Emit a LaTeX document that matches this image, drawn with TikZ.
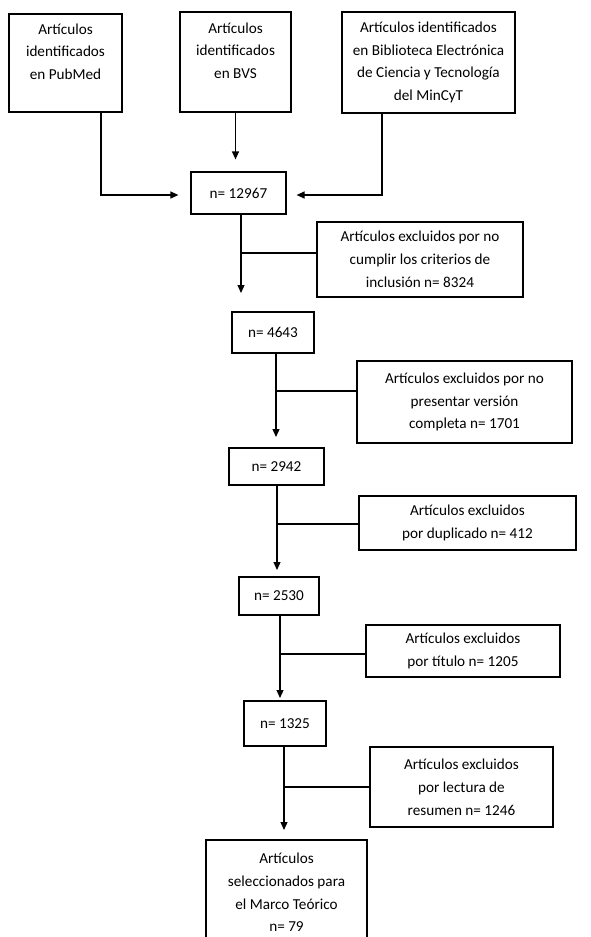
\documentclass[tikz,border=0pt]{standalone}
\usepackage{fontspec}
\setmainfont{Carlito}
\usetikzlibrary{arrows.meta, calc, positioning}

\begin{document}
\begin{tikzpicture}[x=1pt, y=-1pt,
line width=1.2pt,
every node/.style = {draw, inner sep=2pt, align=center,
                     font=\fontsize{15.2}{22.8}\selectfont},
                    ]
%---
\useasboundingbox (0,0) rectangle (591,937);

% sources
\node (pubmed) [minimum width=113pt, minimum height=98pt] at (65.5,63)
      {Artículos \\ identificados \\ en PubMed \\ \mbox{}};
\node (bvs) [minimum width=111pt, minimum height=100pt] at (235.5,62)
      {Artículos \\ identificados \\ en BVS \\ \mbox{}};
\node (mincyt) [minimum width=173pt, minimum height=101pt] at (428.5,62.5)
      {Artículos identificados \\ en Biblioteca Electrónica \\ de Ciencia y Tecnología \\ del MinCyT};

% main line
\node (n_all)  [minimum width=95pt, minimum height=42pt] at (238.5,193) {n= 12967};
\node (n_incl) [minimum width=82pt, minimum height=41pt] at (273,332.5) {n= 4643};
\node (n_full) [minimum width=95pt, minimum height=37pt] at (276.5,466.5) {n= 2942};
\node (n_dup)  [minimum width=80pt, minimum height=38pt] at (279,596) {n= 2530};
\node (n_tit)  [minimum width=82pt, minimum height=45pt] at (285,723.5) {n= 1325};
\node (sel)    [minimum width=161pt, minimum height=105pt] at (286.5,892.5)
      {Artículos \\ seleccionados para \\ el Marco Teórico \\ n= 79};

% excluded
\node (ex_incl) [minimum width=206pt, minimum height=75pt] at (420,259.5)
      {Artículos excluidos por no \\ cumplir los criterios de \\ inclusión n= 8324};
\node (ex_full) [minimum width=215pt, minimum height=82pt] at (464.5,402)
      {Artículos excluidos por no \\ presentar versión \\ completa n= 1701};
\node (ex_dup)  [minimum width=217pt, minimum height=54pt] at (467.5,523)
      {Artículos excluidos \\ por duplicado n= 412};
\node (ex_tit)  [minimum width=194pt, minimum height=52pt] at (463,651)
      {Artículos excluidos \\ por título n= 1205};
\node (ex_res)  [minimum width=183pt, minimum height=80pt] at (461.5,787)
      {Artículos excluidos \\ por lectura de \\ resumen n= 1246};

\coordinate (tip1) at (241,293);
\coordinate (tip2) at (276,437);
\coordinate (tip3) at (277,570);
\coordinate (tip4) at (280,698);
\coordinate (tip5) at (284,830);
\coordinate (br1) at (241,253);
\coordinate (br2) at (276,391);
\coordinate (br3) at (277,524);
\coordinate (br4) at (280,654);
\coordinate (br5) at (284,787);

\path[-{Triangle[length=8pt,width=7pt]}]
        (bvs.south) edge[shorten >=12pt] (bvs.south |- n_all.north)
        ([xshift=35.5pt]pubmed.south) edge[to path={|- (\tikztotarget)}]
                ([xshift=-12pt,yshift=-2pt]n_all.west)
        ([xshift=-46.5pt]mincyt.south) edge[to path={|- (\tikztotarget)}]
                ([xshift=10pt,yshift=-2pt]n_all.east)
        (tip1 |- n_all.south)  edge (tip1)
        (tip2 |- n_incl.south) edge (tip2)
        (tip3 |- n_full.south) edge (tip3)
        (tip4 |- n_dup.south)  edge (tip4)
        (tip5 |- n_tit.south)  edge (tip5);

\path[-]
        (br1 -| ex_incl.west) edge (br1)
        (br2 -| ex_full.west) edge (br2)
        (br3 -| ex_dup.west)  edge (br3)
        (br4 -| ex_tit.west)  edge (br4)
        (br5 -| ex_res.west)  edge (br5);
\end{tikzpicture}
\end{document}
